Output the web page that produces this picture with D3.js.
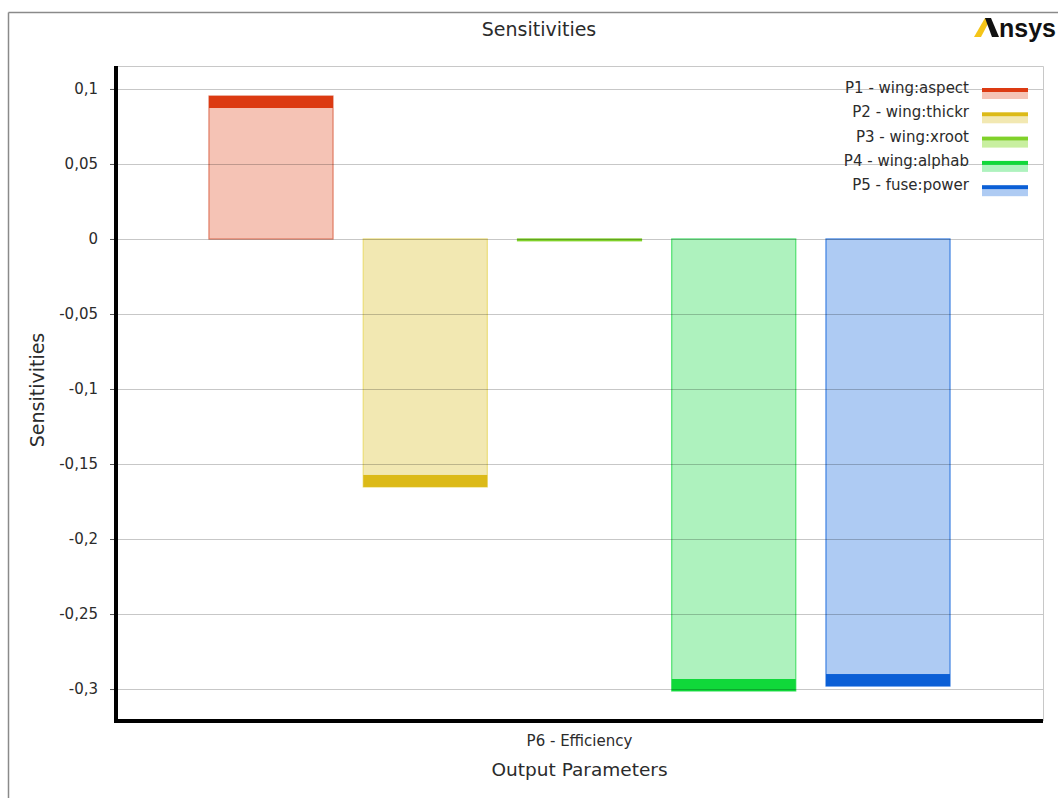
<!DOCTYPE html>
<html>
<head>
<meta charset="utf-8">
<script src="https://cdn.jsdelivr.net/npm/d3@7"></script>
<style>
  html, body { margin: 0; padding: 0; background: #fff; }
  svg { display: block; }
  text { font-family: "DejaVu Sans", sans-serif; fill: #2b2b2b; }
</style>
</head>
<body>
<svg id="chart" width="1058" height="798"></svg>
<script>
// ---- data ----
const categories = ["P1 - wing:aspect", "P2 - wing:thickr", "P3 - wing:xroot", "P4 - wing:alphab", "P5 - fuse:power"];
const values = [0.0953, -0.1653, -0.0012, -0.3013, -0.2980];
const capColors = ["#dc3a12", "#dcba18", "#80d12a", "#10d83a", "#0b5fd6"];
const fillColors = ["#f5c3b5", "#f2e8b2", "#c8efa0", "#aef2be", "#aecbf3"];
const strokeColors = ["#e07a62", "#ebdd78", "#7fd12a", "#4fe06e", "#3c80e2"];
const yTicks = [0.1, 0.05, 0, -0.05, -0.1, -0.15, -0.2, -0.25, -0.3];
const yTickLabels = ["0,1", "0,05", "0", "-0,05", "-0,1", "-0,15", "-0,2", "-0,25", "-0,3"];
const xCategory = "P6 - Efficiency";
const title = "Sensitivities";
const yTitle = "Sensitivities";
const xTitle = "Output Parameters";

// ---- layout ----
const svg = d3.select("#chart");
const plot = { left: 116, right: 1043, top: 66, bottom: 721 };

const y = d3.scaleLinear().domain([-0.3213, 0.1153]).range([plot.bottom, plot.top]);
const x = d3.scaleBand().domain(categories).range([plot.left, plot.right]);
{
  const n = categories.length;
  const W = plot.right - plot.left;
  const bw = 124, gap = 30.25;
  const outer = (W - n * bw - (n - 1) * gap) / 2;
  const step = bw + gap;
  x.paddingInner(gap / step).paddingOuter(outer / step);
}

// outer frame
svg.append("line").attr("x1", 8.5).attr("x2", 1058).attr("y1", 12.5).attr("y2", 12.5)
  .attr("stroke", "#8a8a8a").attr("stroke-width", 1.5);
svg.append("line").attr("x1", 8.5).attr("x2", 8.5).attr("y1", 12.5).attr("y2", 798)
  .attr("stroke", "#8a8a8a").attr("stroke-width", 1.5);

// title
svg.append("text").attr("x", 539).attr("y", 36).attr("text-anchor", "middle")
  .style("font-size", "19px").text(title);

// logo
const logo = svg.append("g");
logo.append("path").attr("d", "M974,37 L981,37 L991,18 L985,18 Z").attr("fill", "#f5c518");
logo.append("path").attr("d", "M985,18 L991,18 L999,37 L992,37 Z").attr("fill", "#111");
logo.append("text").attr("x", 999).attr("y", 37).style("font-family", "'Liberation Sans', Arial, sans-serif")
  .style("font-weight", "bold").style("font-size", "25px").style("fill", "#111").text("nsys");

// plot border (top, right)
svg.append("path").attr("d", `M${plot.left},${plot.top + 0.5} H${plot.right + 0.5} V${plot.bottom}`)
  .attr("fill", "none").attr("stroke", "#c8c8c8").attr("stroke-width", 1);

// bars
const bars = svg.append("g");
categories.forEach((c, i) => {
  const v = values[i];
  const y0 = y(0), y1 = y(v);
  const top = Math.min(y0, y1), h = Math.abs(y1 - y0);
  bars.append("rect").attr("x", x(c)).attr("y", top).attr("width", x.bandwidth()).attr("height", h)
    .attr("fill", fillColors[i]).attr("stroke", strokeColors[i]).attr("stroke-width", 1.2);
  const capH = Math.min(12, h);
  const capY = v >= 0 ? y1 : y1 - capH;
  bars.append("rect").attr("x", x(c)).attr("y", capY).attr("width", x.bandwidth()).attr("height", Math.max(capH, 2))
    .attr("fill", capColors[i]);
});

// gridlines (over bars)
svg.append("g").selectAll("line").data(yTicks).join("line")
  .attr("x1", plot.left).attr("x2", plot.right)
  .attr("y1", d => Math.round(y(d)) + 0.5).attr("y2", d => Math.round(y(d)) + 0.5)
  .attr("stroke", "rgba(0,0,0,0.22)").attr("stroke-width", 1);

// y axis
const yAxis = d3.axisLeft(y).tickValues(yTicks).tickSize(6).tickPadding(12)
  .tickFormat((d, i) => yTickLabels[i]);
const gy = svg.append("g").attr("transform", `translate(${plot.left},0)`).call(yAxis);
gy.select(".domain").remove();
gy.selectAll(".tick line").attr("stroke", "#555");
gy.selectAll(".tick text").style("font-size", "15px").style("font-family", "DejaVu Sans").attr("fill", "#2b2b2b");

// axis lines (thick black)
svg.append("line").attr("x1", plot.left).attr("x2", plot.left).attr("y1", plot.top).attr("y2", plot.bottom + 2)
  .attr("stroke", "#000").attr("stroke-width", 4);
svg.append("line").attr("x1", plot.left - 2).attr("x2", plot.right).attr("y1", plot.bottom).attr("y2", plot.bottom)
  .attr("stroke", "#000").attr("stroke-width", 4);

// x category label
svg.append("text").attr("x", (plot.left + plot.right) / 2).attr("y", 746).attr("text-anchor", "middle")
  .style("font-size", "15px").text(xCategory);
// x title
svg.append("text").attr("x", (plot.left + plot.right) / 2).attr("y", 776).attr("text-anchor", "middle")
  .style("font-size", "18.5px").text(xTitle);
// y title
svg.append("text").attr("transform", `translate(44,${390}) rotate(-90)`).attr("text-anchor", "middle")
  .style("font-size", "19px").text(yTitle);

// legend
const legY = [90, 114.3, 138.6, 162.9, 187.2];
const leg = svg.append("g");
categories.forEach((c, i) => {
  leg.append("text").attr("x", 969).attr("y", legY[i] + 3).attr("text-anchor", "end")
    .style("font-size", "15px").text(c);
  leg.append("rect").attr("x", 982).attr("y", legY[i] + 2).attr("width", 46).attr("height", 7)
    .attr("fill", fillColors[i]);
  leg.append("rect").attr("x", 982).attr("y", legY[i] - 2).attr("width", 46).attr("height", 4)
    .attr("fill", capColors[i]);
});
</script>
</body>
</html>
